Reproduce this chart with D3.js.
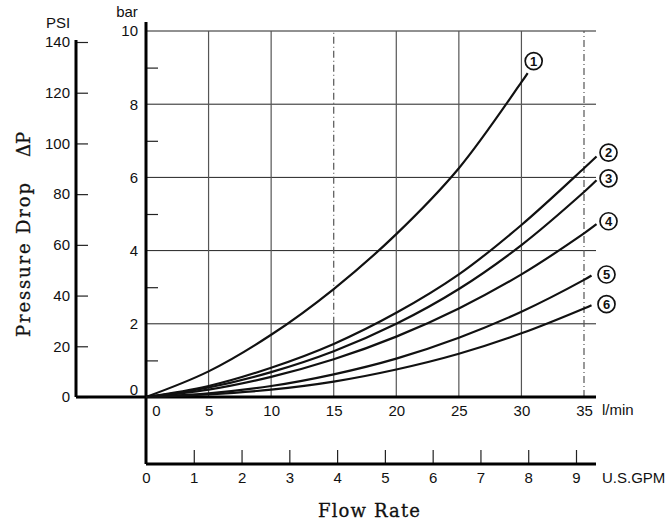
<html>
<head>
<script src="https://d3js.org/d3.v7.min.js"></script>
<style>
  body { margin: 0; background: #fff; }
  .tick text, .lbl { font-family: "Liberation Sans", Arial, sans-serif; font-size: 15px; fill: #111; }
  .ttl { font-family: "DejaVu Serif", "Liberation Serif", serif; font-size: 18px; fill: #111; stroke: #111; stroke-width: 0.3px; }
  .curve { fill: none; stroke: #111; stroke-width: 2.2px; }
  .grid { stroke: #222; stroke-width: 1px; }
  .vgrid { stroke: #555; stroke-width: 1.2px; }
  .axisline { stroke: #000; stroke-width: 3px; }
  .tick line { stroke: #222; stroke-width: 1.2px; }
  .badge circle { fill: #fff; stroke: #111; stroke-width: 1.7px; }
  .badge text { font-family: "Liberation Sans", Arial, sans-serif; font-size: 13px; font-weight: bold; fill: #111; }
</style>
</head>
<body>
<script>
// flow rates (l/min) at which the curves were read
var flowA = [0, 5, 10, 15, 20, 25, 30, 30.5];
var flowB = [0, 5, 10, 15, 20, 25, 30, 35, 36];
var flowC = [0, 5, 10, 15, 20, 25, 30, 35, 35.6];

// pressure drop in bar
var curve1 = [0, 0.70, 1.70, 2.95, 4.45, 6.25, 8.60, 8.85];
var curve2 = [0, 0.30, 0.80, 1.45, 2.30, 3.35, 4.70, 6.25, 6.57];
var curve3 = [0, 0.26, 0.68, 1.25, 2.00, 2.95, 4.15, 5.60, 5.92];
var curve4 = [0, 0.20, 0.55, 1.03, 1.65, 2.42, 3.35, 4.47, 4.72];
var curve5 = [0, 0.10, 0.30, 0.62, 1.05, 1.62, 2.33, 3.20, 3.32];
var curve6 = [0, 0.07, 0.20, 0.42, 0.75, 1.18, 1.74, 2.42, 2.51];

var psiTicks = [0, 20, 40, 60, 80, 100, 120, 140];
var barMajor = [0, 2, 4, 6, 8, 10];
var barMinor = [1, 3, 5, 7, 9];
var lpmTicks = [0, 5, 10, 15, 20, 25, 30, 35];
var gpmTicks = [0, 1, 2, 3, 4, 5, 6, 7, 8, 9];

var series = [
    {name: "1", flow: flowA, bar: curve1, dx: 6, dy: -12},
    {name: "2", flow: flowB, bar: curve2, dx: 12, dy: -4},
    {name: "3", flow: flowB, bar: curve3, dx: 12, dy: -2},
    {name: "4", flow: flowB, bar: curve4, dx: 12, dy: -3},
    {name: "5", flow: flowC, bar: curve5, dx: 15, dy: -1},
    {name: "6", flow: flowC, bar: curve6, dx: 15, dy: -1}
];

var width = 671, height = 523;

var x = d3.scaleLinear().domain([0, 35]).range([146, 584]);
var yBar = d3.scaleLinear().domain([0, 10]).range([397, 31]);
var yPsi = d3.scaleLinear().domain([0, 140]).range([397, 42]);
var xGpm = d3.scaleLinear().domain([0, 9]).range([146, 576]);

var psiX = 76, gpmY = 464, extra = 12;
var dashDot = "7,3,1,3";

var svg = d3.select("body").append("svg")
    .attr("width", width)
    .attr("height", height);

// grid
svg.selectAll(".hgrid")
    .data(barMajor.slice(1))
    .enter().append("line")
    .attr("class", "grid")
    .attr("x1", x(0)).attr("x2", x(35) + extra)
    .attr("y1", function (d) { return yBar(d); })
    .attr("y2", function (d) { return yBar(d); });

svg.selectAll(".vg")
    .data(lpmTicks.slice(1))
    .enter().append("line")
    .attr("class", "vgrid")
    .attr("x1", function (d) { return x(d); })
    .attr("x2", function (d) { return x(d); })
    .attr("y1", yBar(0))
    .attr("y2", function (d) { return d === 15 ? yBar(2) : yBar(10); })
    .style("stroke-dasharray", function (d) { return d === 35 ? dashDot : null; });

// the 15 l/min line turns dash-dot above 2 bar
svg.append("line")
    .attr("class", "vgrid")
    .attr("x1", x(15)).attr("x2", x(15))
    .attr("y1", yBar(2)).attr("y2", yBar(10))
    .style("stroke-dasharray", dashDot);

// PSI axis
svg.append("g")
    .attr("transform", "translate(" + psiX + ",0)")
    .call(d3.axisLeft(yPsi).tickValues(psiTicks).tickSizeInner(-12).tickSizeOuter(0).tickPadding(6))
    .call(function (g) { g.select(".domain").remove(); });

svg.append("line").attr("class", "axisline")
    .attr("x1", psiX).attr("x2", psiX)
    .attr("y1", yPsi(140) - 2).attr("y2", yPsi(0));

// bar axis
svg.append("g")
    .attr("transform", "translate(" + x(0) + ",0)")
    .call(d3.axisLeft(yBar).tickValues(barMajor).tickSize(0).tickPadding(8))
    .call(function (g) {
        g.select(".domain").remove();
        g.selectAll(".tick text").filter(function (d) { return d === 0; }).attr("dy", "-0.2em");
    });

svg.append("g")
    .attr("transform", "translate(" + x(0) + ",0)")
    .call(d3.axisLeft(yBar).tickValues(barMinor).tickSizeInner(-12).tickSizeOuter(0).tickFormat(""))
    .call(function (g) { g.select(".domain").remove(); });

// l/min axis
svg.append("g")
    .attr("transform", "translate(0," + yBar(0) + ")")
    .call(d3.axisBottom(x).tickValues(lpmTicks).tickSize(0).tickPadding(8))
    .call(function (g) {
        g.select(".domain").remove();
        g.selectAll(".tick text").filter(function (d) { return d === 0; }).attr("dx", 10);
    });

// GPM axis
svg.append("g")
    .attr("transform", "translate(0," + gpmY + ")")
    .call(d3.axisBottom(xGpm).tickValues(gpmTicks).tickSizeInner(-14).tickSizeOuter(0).tickPadding(8))
    .call(function (g) {
        g.select(".domain").remove();
        g.selectAll(".tick line").filter(function (d) { return d === 0; }).remove();
    });

svg.append("line").attr("class", "axisline")
    .attr("x1", psiX).attr("x2", x(35) + extra)
    .attr("y1", yBar(0)).attr("y2", yBar(0));
svg.append("line").attr("class", "axisline")
    .attr("x1", x(0)).attr("x2", x(35) + extra)
    .attr("y1", gpmY).attr("y2", gpmY);
svg.append("line").attr("class", "axisline")
    .attr("x1", x(0)).attr("x2", x(0))
    .attr("y1", 22).attr("y2", gpmY);

// curves
var line = d3.line()
    .x(function (d) { return x(d[0]); })
    .y(function (d) { return yBar(d[1]); })
    .curve(d3.curveCatmullRom.alpha(0.5));

series.forEach(function (s) {
    var pts = s.flow.map(function (f, i) { return [f, s.bar[i]]; });
    svg.append("path").attr("class", "curve").attr("d", line(pts));

    var last = pts[pts.length - 1];
    var b = svg.append("g").attr("class", "badge")
        .attr("transform", "translate(" + (x(last[0]) + s.dx) + "," + (yBar(last[1]) + s.dy) + ")");
    b.append("circle").attr("r", 8.5);
    b.append("text").attr("text-anchor", "middle").attr("dy", "0.37em").text(s.name);
});

// unit labels
svg.append("text").attr("class", "lbl").attr("x", 58).attr("y", 28).attr("text-anchor", "middle").text("PSI");
svg.append("text").attr("class", "lbl").attr("x", 127).attr("y", 17).attr("text-anchor", "middle").text("bar");
svg.append("text").attr("class", "lbl").attr("x", 602).attr("y", yBar(0) + 18).text("l/min");
svg.append("text").attr("class", "lbl").attr("x", 602).attr("y", gpmY + 19).text("U.S.GPM");

// titles
svg.append("text").attr("class", "ttl")
    .attr("x", 369).attr("y", 517).attr("text-anchor", "middle")
    .attr("textLength", 102)
    .text("Flow Rate");

svg.append("text").attr("class", "ttl")
    .attr("transform", "translate(30,337) rotate(-90)")
    .attr("textLength", 154)
    .text("Pressure Drop");
svg.append("text").attr("class", "ttl")
    .attr("transform", "translate(30,157) rotate(-90)")
    .text("\u0394P");
</script>
</body>
</html>
